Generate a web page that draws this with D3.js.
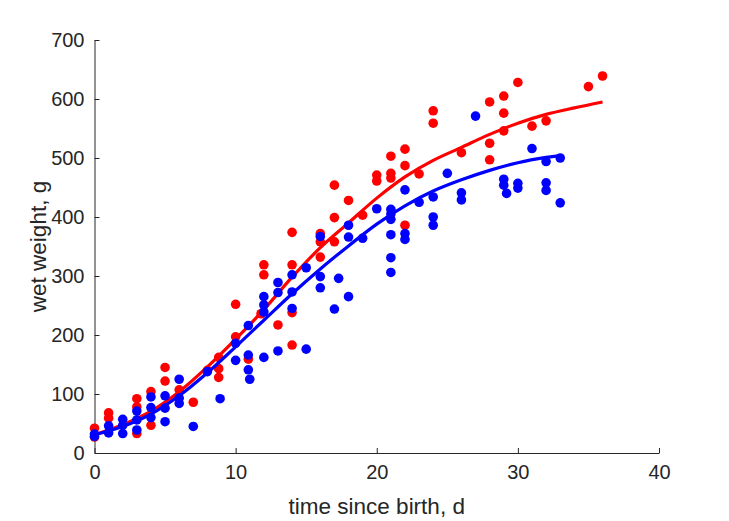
<!DOCTYPE html>
<html><head><meta charset="utf-8">
<script src="https://cdn.jsdelivr.net/npm/d3@7"></script>
<style>body{margin:0;background:#fff}svg{display:block}text{font-family:"Liberation Sans",Arial,sans-serif;fill:#262626}</style>
</head><body>
<script>
// Red series observations (day, wet weight g)
const redDays = [0,0,1,1,3,3,3,4,4,5,5,6,7,8,8.8,8.8,8.8,10,10,10.9,12,12,11.8,13,14,14,14,14,16,16,16,17,17,17,18,19,20,20,21,21,21,22,22,22,23,24,24,26,28,28,28,29,29,29,30,31,32,35,36];
const redWeights = [42,27,68,59,92,78,33,104,47,145,122,107,86,140,162,143,128,252,197,159,319,302,236,217,374,319,238,183,372,358,332,454,399,358,428,403,471,461,503,474,466,515,487,386,473,580,559,509,595,525,497,605,576,546,628,554,563,621,639];
// Blue series observations
const blueDays = [0,0,1,1,2,2,2,3,3,3,4,4,4,5,5,5,6,6,6,7,8,8.9,10,10,10.9,10.9,10.9,11,12,12,12,12,13,13,13,14,14,14,15,15,16,16,16,17.3,17,18,18,18,19,20,21,21,21,21,21,21,22,22,22,23,24,24,24,25,26,26,27,29,29,29.2,30,30,31,32,32,32,33,33];
const blueWeights = [32,28,46,34,57,47,33,71,56,39,95,77,60,97,76,53,125,93,84,45,138,92,186,157,216,166,141,125,265,251,239,162,289,272,173,302,273,245,314,176,367,299,280,296,244,386,366,265,364,414,413,405,396,370,331,306,446,372,362,425,434,400,386,474,441,429,571,464,454,440,457,449,516,494,458,445,500,424];
// Fitted curves
const redFitDays = [0,2,4,6,8,10,12,14,16,18,20,22,24,26,28,30,32,34,36];
const redFitWeights = [31,48,71,104,146,193,243,298,348,390,432,468,496,518,540,559,574,585,595];
const blueFitDays = [0,2,4,6,8,10,12,14,16,18,20,22,24,26,28,30,32,33];
const blueFitWeights = [31,45,66,97,136,180,225,270,312,351,388,419,444,463,479,492,501,504];
// Axes
const xTicks = [0,10,20,30,40];
const yTicks = [0,100,200,300,400,500,600,700];
const xLabel = "time since birth, d";
const yLabel = "wet weight, g";

const W = 729, H = 521;
const svg = d3.select("body").append("svg").attr("width", W).attr("height", H);
const x = d3.scaleLinear().domain([0,40]).range([94.5,659]);
const y = d3.scaleLinear().domain([0,700]).range([453,40]);
const axisColor = "#262626";

// axes
const xAxis = svg.append("g").attr("transform","translate(0,453)")
  .call(d3.axisBottom(x).tickValues(xTicks).tickSizeInner(-5).tickSizeOuter(0).tickPadding(12));
const yAxis = svg.append("g").attr("transform","translate(94.5,0)")
  .call(d3.axisLeft(y).tickValues(yTicks).tickSizeInner(-5).tickSizeOuter(0).tickPadding(10));
[xAxis,yAxis].forEach(g=>{
  g.select(".domain").attr("stroke",axisColor).attr("stroke-width",1);
  g.selectAll(".tick line").attr("stroke",axisColor);
  g.selectAll(".tick text").attr("fill",axisColor).style("font-size","20px").style("font-family","'Liberation Sans',Arial,sans-serif");
});
xAxis.selectAll(".tick text").attr("dy","0.71em");

svg.append("text").attr("x",(94.5+659)/2).attr("y",514).attr("text-anchor","middle")
  .style("font-size","22.5px").text(xLabel);
svg.append("text").attr("transform","translate(46,246.5) rotate(-90)").attr("text-anchor","middle")
  .style("font-size","22.5px").text(yLabel);

const line = d3.line().x(d=>x(d[0])).y(d=>y(d[1])).curve(d3.curveCatmullRom.alpha(0.5));

function drawPoints(days, weights, color){
  svg.append("g").selectAll("circle").data(d3.zip(days,weights)).join("circle")
    .attr("cx",d=>x(d[0])).attr("cy",d=>y(d[1])).attr("r",4.8).attr("fill",color);
}
function drawLine(days, weights, color){
  svg.append("path").datum(d3.zip(days,weights)).attr("d",line)
    .attr("fill","none").attr("stroke",color).attr("stroke-width",3.2).attr("stroke-linejoin","round");
}
drawPoints(redDays, redWeights, "#ff0000");
drawLine(redFitDays, redFitWeights, "#ff0000");
drawPoints(blueDays, blueWeights, "#0000ff");
drawLine(blueFitDays, blueFitWeights, "#0000ff");
</script>
</body></html>
